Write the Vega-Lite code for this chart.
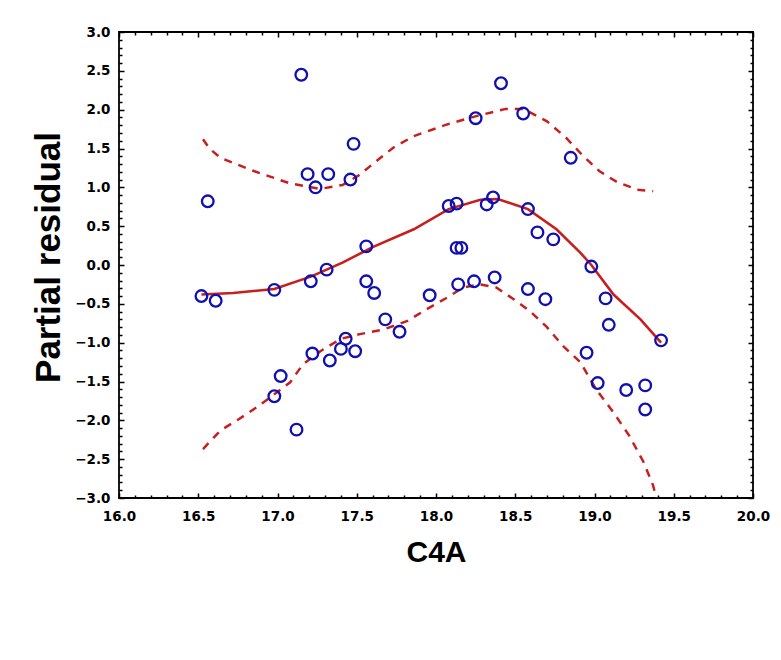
{
  "$schema": "https://vega.github.io/schema/vega-lite/v6.json",
  "width": 634,
  "height": 466,
  "padding": {"left": 31, "top": 25, "right": 5, "bottom": 5},
  "background": "white",
  "config": {
    "view": {"stroke": "black", "strokeWidth": 1.8},
    "axis": {
      "grid": false,
      "domain": false,
      "tickColor": "black",
      "tickWidth": 1.5,
      "labelColor": "black",
      "labelFont": "DejaVu Sans",
      "labelFontSize": 13.5,
      "labelFontWeight": "bold",
      "labelOverlap": false,
      "labelFlush": false,
      "titleColor": "black",
      "titleFont": "Liberation Sans",
      "titleFontWeight": "bold"
    }
  },
  "datasets": {
    "pts": [
      {"x": 16.52, "y": -0.40}, {"x": 16.56, "y": 0.82}, {"x": 16.61, "y": -0.46},
      {"x": 16.98, "y": -0.32}, {"x": 16.98, "y": -1.69}, {"x": 17.02, "y": -1.43},
      {"x": 17.12, "y": -2.12}, {"x": 17.15, "y": 2.45}, {"x": 17.19, "y": 1.17},
      {"x": 17.21, "y": -0.21}, {"x": 17.22, "y": -1.14}, {"x": 17.24, "y": 1.00},
      {"x": 17.31, "y": -0.06}, {"x": 17.32, "y": 1.17}, {"x": 17.33, "y": -1.23},
      {"x": 17.40, "y": -1.08}, {"x": 17.43, "y": -0.95}, {"x": 17.46, "y": 1.10},
      {"x": 17.48, "y": 1.56}, {"x": 17.49, "y": -1.11}, {"x": 17.56, "y": 0.24},
      {"x": 17.56, "y": -0.21}, {"x": 17.61, "y": -0.36}, {"x": 17.68, "y": -0.70},
      {"x": 17.77, "y": -0.86}, {"x": 17.96, "y": -0.39}, {"x": 18.08, "y": 0.76},
      {"x": 18.13, "y": 0.79}, {"x": 18.13, "y": 0.22}, {"x": 18.16, "y": 0.22},
      {"x": 18.14, "y": -0.25}, {"x": 18.24, "y": -0.21}, {"x": 18.25, "y": 1.89},
      {"x": 18.32, "y": 0.78}, {"x": 18.36, "y": 0.87}, {"x": 18.37, "y": -0.16},
      {"x": 18.41, "y": 2.34}, {"x": 18.55, "y": 1.95}, {"x": 18.58, "y": 0.72},
      {"x": 18.58, "y": -0.31}, {"x": 18.64, "y": 0.42}, {"x": 18.69, "y": -0.44},
      {"x": 18.74, "y": 0.33}, {"x": 18.85, "y": 1.38}, {"x": 18.95, "y": -1.13},
      {"x": 18.98, "y": -0.02}, {"x": 19.02, "y": -1.52}, {"x": 19.07, "y": -0.43},
      {"x": 19.09, "y": -0.77}, {"x": 19.20, "y": -1.61}, {"x": 19.32, "y": -1.55},
      {"x": 19.32, "y": -1.86}, {"x": 19.42, "y": -0.97}
    ],
    "curves": [
      {"s": "fit", "x": 16.52, "y": -0.38}, {"s": "fit", "x": 16.72, "y": -0.36},
      {"s": "fit", "x": 16.98, "y": -0.31}, {"s": "fit", "x": 17.21, "y": -0.15},
      {"s": "fit", "x": 17.41, "y": 0.03}, {"s": "fit", "x": 17.6, "y": 0.23},
      {"s": "fit", "x": 17.86, "y": 0.46}, {"s": "fit", "x": 18.08, "y": 0.72},
      {"s": "fit", "x": 18.28, "y": 0.84}, {"s": "fit", "x": 18.39, "y": 0.85},
      {"s": "fit", "x": 18.58, "y": 0.72}, {"s": "fit", "x": 18.76, "y": 0.46},
      {"s": "fit", "x": 18.91, "y": 0.16}, {"s": "fit", "x": 18.98, "y": 0.0},
      {"s": "fit", "x": 19.12, "y": -0.38}, {"s": "fit", "x": 19.29, "y": -0.70},
      {"s": "fit", "x": 19.42, "y": -1.0},
      {"s": "upper", "x": 16.53, "y": 1.62}, {"s": "upper", "x": 16.57, "y": 1.5},
      {"s": "upper", "x": 16.64, "y": 1.38}, {"s": "upper", "x": 16.85, "y": 1.21},
      {"s": "upper", "x": 17.08, "y": 1.05}, {"s": "upper", "x": 17.27, "y": 0.98},
      {"s": "upper", "x": 17.41, "y": 1.03}, {"s": "upper", "x": 17.51, "y": 1.15},
      {"s": "upper", "x": 17.65, "y": 1.38}, {"s": "upper", "x": 17.73, "y": 1.51},
      {"s": "upper", "x": 17.86, "y": 1.66}, {"s": "upper", "x": 18.07, "y": 1.81},
      {"s": "upper", "x": 18.26, "y": 1.92}, {"s": "upper", "x": 18.44, "y": 2.01},
      {"s": "upper", "x": 18.55, "y": 2.01}, {"s": "upper", "x": 18.70, "y": 1.85},
      {"s": "upper", "x": 18.82, "y": 1.64}, {"s": "upper", "x": 18.93, "y": 1.40},
      {"s": "upper", "x": 19.03, "y": 1.21}, {"s": "upper", "x": 19.14, "y": 1.07},
      {"s": "upper", "x": 19.27, "y": 0.97}, {"s": "upper", "x": 19.37, "y": 0.95},
      {"s": "lower", "x": 16.53, "y": -2.37}, {"s": "lower", "x": 16.64, "y": -2.13},
      {"s": "lower", "x": 16.76, "y": -1.98}, {"s": "lower", "x": 16.87, "y": -1.83},
      {"s": "lower", "x": 16.97, "y": -1.68}, {"s": "lower", "x": 17.08, "y": -1.51},
      {"s": "lower", "x": 17.16, "y": -1.28}, {"s": "lower", "x": 17.27, "y": -1.11},
      {"s": "lower", "x": 17.40, "y": -0.95}, {"s": "lower", "x": 17.52, "y": -0.89},
      {"s": "lower", "x": 17.67, "y": -0.83}, {"s": "lower", "x": 17.82, "y": -0.72},
      {"s": "lower", "x": 17.94, "y": -0.57}, {"s": "lower", "x": 18.07, "y": -0.42},
      {"s": "lower", "x": 18.17, "y": -0.29}, {"s": "lower", "x": 18.28, "y": -0.25},
      {"s": "lower", "x": 18.38, "y": -0.29}, {"s": "lower", "x": 18.49, "y": -0.44},
      {"s": "lower", "x": 18.59, "y": -0.59}, {"s": "lower", "x": 18.70, "y": -0.80},
      {"s": "lower", "x": 18.80, "y": -1.04}, {"s": "lower", "x": 18.91, "y": -1.25},
      {"s": "lower", "x": 19.01, "y": -1.60}, {"s": "lower", "x": 19.12, "y": -1.90},
      {"s": "lower", "x": 19.22, "y": -2.20}, {"s": "lower", "x": 19.31, "y": -2.54},
      {"s": "lower", "x": 19.37, "y": -2.84}, {"s": "lower", "x": 19.39, "y": -3.0}
    ]
  },
  "resolve": {"axis": {"x": "independent", "y": "independent"}},
  "layer": [
    {
      "data": {"name": "curves"},
      "transform": [{"filter": "datum.s !== 'fit'"}],
      "mark": {"type": "line", "color": "#c81e1e", "strokeWidth": 2.5, "strokeDash": [8, 7]},
      "encoding": {
        "x": {
          "field": "x", "type": "quantitative",
          "scale": {"domain": [16, 20], "nice": false, "zero": false},
          "axis": {
            "orient": "top", "title": null, "labels": false,
            "values": [16,16.1,16.2,16.3,16.4,16.5,16.6,16.7,16.8,16.9,17,17.1,17.2,17.3,17.4,17.5,17.6,17.7,17.8,17.9,18,18.1,18.2,18.3,18.4,18.5,18.6,18.7,18.8,18.9,19,19.1,19.2,19.3,19.4,19.5,19.6,19.7,19.8,19.9,20],
            "tickSize": {"condition": {"test": "abs(datum.value*2 - round(datum.value*2)) < 0.001", "value": -5}, "value": -3}
          }
        },
        "y": {
          "field": "y", "type": "quantitative",
          "scale": {"domain": [-3, 3], "nice": false, "zero": false},
          "axis": {
            "orient": "right", "title": null, "labels": false,
            "values": [-3,-2.9,-2.8,-2.7,-2.6,-2.5,-2.4,-2.3,-2.2,-2.1,-2,-1.9,-1.8,-1.7,-1.6,-1.5,-1.4,-1.3,-1.2,-1.1,-1,-0.9,-0.8,-0.7,-0.6,-0.5,-0.4,-0.3,-0.2,-0.1,0,0.1,0.2,0.3,0.4,0.5,0.6,0.7,0.8,0.9,1,1.1,1.2,1.3,1.4,1.5,1.6,1.7,1.8,1.9,2,2.1,2.2,2.3,2.4,2.5,2.6,2.7,2.8,2.9,3],
            "tickSize": {"condition": {"test": "abs(datum.value*2 - round(datum.value*2)) < 0.001", "value": -5}, "value": -3}
          }
        },
        "detail": {"field": "s"}
      }
    },
    {
      "data": {"name": "curves"},
      "transform": [{"filter": "datum.s === 'fit'"}],
      "mark": {"type": "line", "color": "#c81e1e", "strokeWidth": 2.6},
      "encoding": {
        "x": {"field": "x", "type": "quantitative", "axis": null},
        "y": {"field": "y", "type": "quantitative", "axis": null}
      }
    },
    {
      "data": {"name": "pts"},
      "mark": {"type": "point", "shape": "circle", "filled": false, "size": 135, "strokeWidth": 2.3, "color": "#1010b0", "opacity": 1},
      "encoding": {
        "x": {
          "field": "x", "type": "quantitative",
          "axis": {
            "orient": "bottom", "title": "C4A", "titleFontSize": 30, "titlePadding": 13,
            "labelPadding": 16,
            "values": [16,16.1,16.2,16.3,16.4,16.5,16.6,16.7,16.8,16.9,17,17.1,17.2,17.3,17.4,17.5,17.6,17.7,17.8,17.9,18,18.1,18.2,18.3,18.4,18.5,18.6,18.7,18.8,18.9,19,19.1,19.2,19.3,19.4,19.5,19.6,19.7,19.8,19.9,20],
            "labelExpr": "abs(datum.value*2 - round(datum.value*2)) < 0.001 ? format(datum.value, '.1f') : ''",
            "tickSize": {"condition": {"test": "abs(datum.value*2 - round(datum.value*2)) < 0.001", "value": -5}, "value": -3}
          }
        },
        "y": {
          "field": "y", "type": "quantitative",
          "axis": {
            "orient": "left", "title": "Partial residual", "titleFontSize": 35, "titlePadding": 8,
            "titleY": 225,
            "labelPadding": 14,
            "values": [-3,-2.9,-2.8,-2.7,-2.6,-2.5,-2.4,-2.3,-2.2,-2.1,-2,-1.9,-1.8,-1.7,-1.6,-1.5,-1.4,-1.3,-1.2,-1.1,-1,-0.9,-0.8,-0.7,-0.6,-0.5,-0.4,-0.3,-0.2,-0.1,0,0.1,0.2,0.3,0.4,0.5,0.6,0.7,0.8,0.9,1,1.1,1.2,1.3,1.4,1.5,1.6,1.7,1.8,1.9,2,2.1,2.2,2.3,2.4,2.5,2.6,2.7,2.8,2.9,3],
            "labelExpr": "abs(datum.value*2 - round(datum.value*2)) < 0.001 ? format(datum.value, '.1f') : ''",
            "tickSize": {"condition": {"test": "abs(datum.value*2 - round(datum.value*2)) < 0.001", "value": -5}, "value": -3}
          }
        }
      }
    }
  ]
}
